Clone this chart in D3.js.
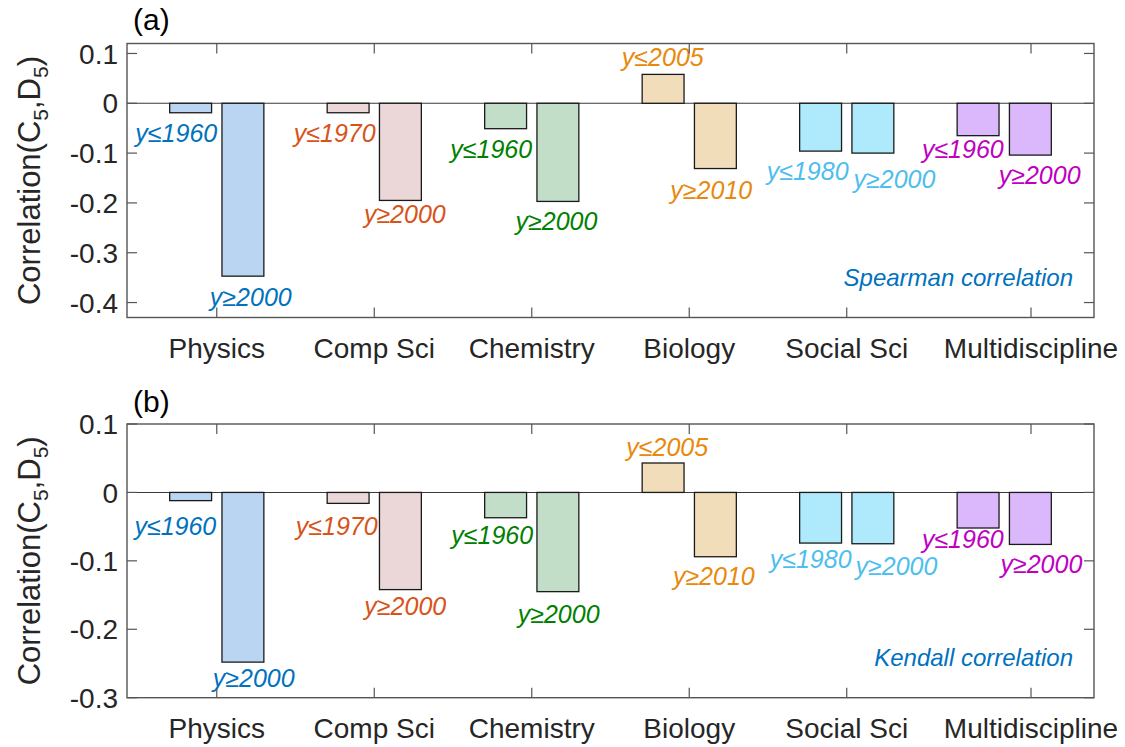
<!DOCTYPE html>
<html>
<meta charset="utf-8">
<head>
    <script src="https://d3js.org/d3.v7.min.js"></script>
    <style>
        body { margin: 0; background: white; }
        text { font-family: "Liberation Sans", Arial, sans-serif; }
    </style>
</head>
<body>
    <script>

        var width = 1125,
            height = 747;

        // data
        var categories = ["Physics", "Comp Sci", "Chemistry", "Biology", "Social Sci", "Multidiscipline"];
        var catPos = [1, 2, 3, 4, 5, 6];
        var xTickVals = [1, 2, 3, 4, 5, 6.17];

        var spearmanEarly = [-0.019, -0.019, -0.051, 0.058, -0.096, -0.065];
        var spearmanLate  = [-0.347, -0.195, -0.197, -0.131, -0.100, -0.104];
        var kendallEarly  = [-0.012, -0.016, -0.037, 0.043, -0.074, -0.052];
        var kendallLate   = [-0.248, -0.142, -0.145, -0.094, -0.075, -0.076];

        var earlyLabels = ["y\u22641960", "y\u22641970", "y\u22641960", "y\u22642005", "y\u22641980", "y\u22641960"];
        var lateLabels  = ["y\u22652000", "y\u22652000", "y\u22652000", "y\u22652010", "y\u22652000", "y\u22652000"];

        var yTicksA = [0.1, 0, -0.1, -0.2, -0.3, -0.4];
        var yTicksB = [0.1, 0, -0.1, -0.2, -0.3];

        // annotation anchors (data units: x = category axis, y = correlation)
        var earlyLabPosA = [[0.743, -0.077], [1.749, -0.077], [2.743, -0.109], [3.832, 0.074], [4.752, -0.153], [5.737, -0.109]];
        var lateLabPosA  = [[1.216, -0.406], [2.194, -0.240], [3.157, -0.254], [4.140, -0.193], [5.303, -0.170], [6.225, -0.163]];
        var earlyLabPosB = [[0.737, -0.062], [1.762, -0.062], [2.749, -0.075], [3.860, 0.053], [4.771, -0.111], [5.737, -0.081]];
        var lateLabPosB  = [[1.235, -0.284], [2.197, -0.179], [3.171, -0.191], [4.156, -0.135], [5.316, -0.120], [6.236, -0.118]];

        var textColors = ["#0072bd", "#d95319", "#008000", "#e8890c", "#4dbeee", "#c000c0"];
        var fillColors = ["#bad5f1", "#ebd7d8", "#c3dec8", "#f2ddbb", "#aeeafb", "#dbb7fb"];

        var svg = d3.select("body").append("svg")
            .attr("width", width)
            .attr("height", height);

        var x = d3.scaleLinear()
            .domain([0.43, 6.57])
            .range([127, 1094]);

        var barW = 0.266, barOff = 0.166;

        function panel(opts) {
            var y = d3.scaleLinear().domain(opts.domain).range([opts.bottom, opts.top]);
            var g = svg.append("g");
            var tl = 10;

            // zero line
            g.append("line")
                .attr("x1", x.range()[0]).attr("x2", x.range()[1])
                .attr("y1", y(0)).attr("y2", y(0))
                .attr("stroke", "#3a3a3a").attr("stroke-width", 1.1);

            // bars
            var series = [opts.early, opts.late];
            series.forEach(function(vals, s) {
                g.selectAll(".bar" + s)
                    .data(vals)
                    .enter()
                    .append("rect")
                    .attr("x", (d, i) => x(catPos[i] + (s === 0 ? -barOff : barOff) - barW / 2))
                    .attr("width", x(barW) - x(0))
                    .attr("y", d => y(Math.max(0, d)))
                    .attr("height", d => Math.abs(y(d) - y(0)))
                    .attr("fill", (d, i) => fillColors[i])
                    .attr("stroke", "#1a1a1a")
                    .attr("stroke-width", 1.3);
            });

            // bar labels
            [[opts.earlyPos, earlyLabels], [opts.latePos, lateLabels]].forEach(function(p) {
                g.selectAll(null)
                    .data(p[0])
                    .enter()
                    .append("text")
                    .attr("x", d => x(d[0]))
                    .attr("y", d => y(d[1]))
                    .attr("text-anchor", "middle")
                    .attr("font-size", 25)
                    .attr("font-style", "italic")
                    .attr("fill", (d, i) => textColors[i])
                    .text((d, i) => p[1][i]);
            });

            // box
            g.append("rect")
                .attr("x", x.range()[0]).attr("y", opts.top)
                .attr("width", x.range()[1] - x.range()[0])
                .attr("height", opts.bottom - opts.top)
                .attr("fill", "none")
                .attr("stroke", "#555").attr("stroke-width", 1.4);

            // y ticks (left and right, inward)
            opts.yTicks.forEach(function(t) {
                g.append("line")
                    .attr("x1", x.range()[0]).attr("x2", x.range()[0] + tl)
                    .attr("y1", y(t)).attr("y2", y(t))
                    .attr("stroke", "#555").attr("stroke-width", 1.2);
                g.append("line")
                    .attr("x1", x.range()[1]).attr("x2", x.range()[1] - tl)
                    .attr("y1", y(t)).attr("y2", y(t))
                    .attr("stroke", "#555").attr("stroke-width", 1.2);
                g.append("text")
                    .attr("x", 118)
                    .attr("y", y(t))
                    .attr("dy", "0.36em")
                    .attr("text-anchor", "end")
                    .attr("font-size", 28)
                    .attr("fill", "#262626")
                    .text(t === 0 ? "0" : d3.format(".1f")(t).replace("\u2212", "-"));
            });

            // x ticks (top and bottom, inward)
            xTickVals.forEach(function(t, i) {
                g.append("line")
                    .attr("x1", x(t)).attr("x2", x(t))
                    .attr("y1", opts.bottom).attr("y2", opts.bottom - tl)
                    .attr("stroke", "#555").attr("stroke-width", 1.2);
                g.append("line")
                    .attr("x1", x(t)).attr("x2", x(t))
                    .attr("y1", opts.top).attr("y2", opts.top + tl)
                    .attr("stroke", "#555").attr("stroke-width", 1.2);
                g.append("text")
                    .attr("x", x(t))
                    .attr("y", opts.bottom + 40.5)
                    .attr("text-anchor", "middle")
                    .attr("font-size", 28)
                    .attr("fill", "#262626")
                    .text(categories[i]);
            });

            // y label
            var yl = g.append("text")
                .attr("transform", "translate(40," + ((opts.top + opts.bottom) / 2) + ") rotate(-90)")
                .attr("text-anchor", "middle")
                .attr("font-size", 31)
                .attr("fill", "#262626");
            yl.append("tspan").text("Correlation(C");
            yl.append("tspan").attr("dy", 8).attr("font-size", 21).text("5");
            yl.append("tspan").attr("dy", -8).text(",D");
            yl.append("tspan").attr("dy", 8).attr("font-size", 21).text("5");
            yl.append("tspan").attr("dy", -8).text(")");

            // panel tag
            g.append("text")
                .attr("x", 133).attr("y", opts.tagY)
                .attr("font-size", 30)
                .attr("fill", "#000")
                .text(opts.tag);

            // method note
            g.append("text")
                .attr("x", 1073).attr("y", opts.noteY)
                .attr("text-anchor", "end")
                .attr("font-size", 24)
                .attr("font-style", "italic")
                .attr("fill", "#0072bd")
                .text(opts.note);
        }

        panel({
            domain: [-0.43, 0.12], top: 43.5, bottom: 317.5,
            early: spearmanEarly, late: spearmanLate,
            earlyPos: earlyLabPosA, latePos: lateLabPosA,
            yTicks: yTicksA, tag: "(a)", tagY: 30,
            note: "Spearman correlation", noteY: 286
        });

        panel({
            domain: [-0.3, 0.1], top: 424, bottom: 697.7,
            early: kendallEarly, late: kendallLate,
            earlyPos: earlyLabPosB, latePos: lateLabPosB,
            yTicks: yTicksB, tag: "(b)", tagY: 412,
            note: "Kendall correlation", noteY: 666
        });

    </script>
</body>
</html>
